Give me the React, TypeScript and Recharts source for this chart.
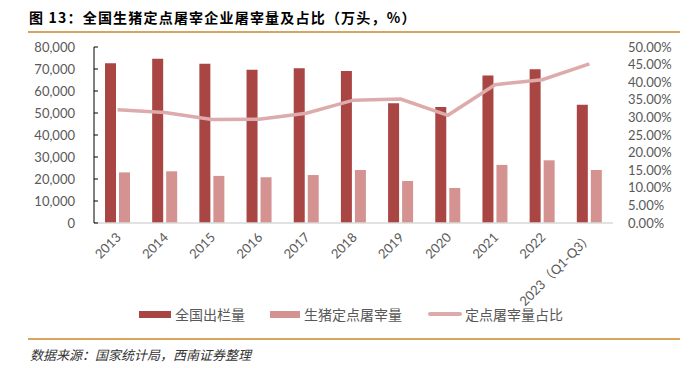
import { ComposedChart, Bar, Line, XAxis, YAxis } from 'recharts';

const years = ['2013', '2014', '2015', '2016', '2017', '2018', '2019', '2020', '2021', '2022', '2023（Q1-Q3）'];
const nationalOutput = [72600, 74700, 72400, 69700, 70300, 69100, 54400, 52700, 67100, 69900, 53800];
const designatedSlaughter = [23000, 23500, 21400, 20800, 21800, 24100, 19100, 15900, 26400, 28500, 24100];
const slaughterShare = [32.2, 31.4, 29.4, 29.5, 31.2, 34.9, 35.2, 30.6, 39.3, 40.7, 45.2];

const leftTicks = [0, 10000, 20000, 30000, 40000, 50000, 60000, 70000, 80000];
const rightTicks = [0, 5, 10, 15, 20, 25, 30, 35, 40, 45, 50];

const seriesNames = ['全国出栏量', '生猪定点屠宰量', '定点屠宰量占比'];
const colors = ['#A94543', '#D49291', '#DDABAB'];

const data = years.map((year, i) => ({
  year,
  national: nationalOutput[i],
  slaughter: designatedSlaughter[i],
  share: slaughterShare[i],
}));

const numFont = 'Lato, "Noto Sans CJK SC", sans-serif';
const cjkFont = '"Noto Sans CJK SC", sans-serif';

function LeftTick(props: any) {
  const { x, y, payload } = props;
  return (
    <g>
      <line x1={x} x2={x + 4} y1={y} y2={y} stroke="#000" strokeWidth={1} />
      <text x={x - 19} y={y} dy="0.35em" textAnchor="end" fill="#595959" fontSize={13} fontFamily={numFont}>
        {payload.value.toLocaleString('en-US')}
      </text>
    </g>
  );
}

function XTick(props: any) {
  const { x, y, payload } = props;
  return (
    <g transform={`translate(${x + 1},${y + 12})`}>
      <text transform="rotate(-45)" textAnchor="end" dy="0.35em" fill="#595959" fontSize={13} fontFamily={numFont}>
        {payload.value}
      </text>
    </g>
  );
}

export default function App() {
  return (
    <div style={{ position: 'absolute', left: 0, top: 0, width: 699, height: 368, background: '#fff' }}>
      <div
        style={{
          position: 'absolute', left: 29, top: 7, fontSize: 14, fontWeight: 'bold', color: '#000',
          fontFamily: cjkFont, letterSpacing: 1.2, whiteSpace: 'nowrap',
        }}
      >
        图 13：全国生猪定点屠宰企业屠宰量及占比（万头，%）
      </div>
      <div style={{ position: 'absolute', left: 28, top: 31, width: 652, height: 2, background: '#D9A460' }} />

      <ComposedChart
        width={699}
        height={368}
        data={data}
        margin={{ top: 47, right: 0, bottom: 0, left: 0 }}
        barSize={11}
        barGap={3}
      >
        <XAxis
          dataKey="year"
          interval={0}
          height={145}
          tickLine={false}
          tickSize={0}
          tickMargin={0}
          axisLine={{ stroke: '#D9D9D9', strokeWidth: 1.5 }}
          tick={<XTick />}
        />
        <YAxis
          yAxisId="left"
          width={94}
          domain={[0, 80000]}
          ticks={leftTicks}
          interval={0}
          tickLine={false}
          tickSize={0}
          tickMargin={0}
          axisLine={{ stroke: '#000', strokeWidth: 1 }}
          tick={<LeftTick />}
        />
        <YAxis
          yAxisId="right"
          orientation="right"
          width={86}
          domain={[0, 50]}
          ticks={rightTicks}
          interval={0}
          tickLine={false}
          axisLine={false}
          tickSize={0}
          tickMargin={15}
          tick={{ fill: '#595959', fontSize: 13, fontFamily: numFont }}
          tickFormatter={(v: number) => v.toFixed(2) + '%'}
        />
        <Bar yAxisId="left" dataKey="national" name={seriesNames[0]} fill={colors[0]} isAnimationActive={false} />
        <Bar yAxisId="left" dataKey="slaughter" name={seriesNames[1]} fill={colors[1]} isAnimationActive={false} />
        <Line
          yAxisId="right"
          dataKey="share"
          name={seriesNames[2]}
          stroke={colors[2]}
          strokeWidth={3.5}
          dot={false}
          activeDot={false}
          isAnimationActive={false}
        />
      </ComposedChart>

      <div style={{ position: 'absolute', left: 139, top: 304, display: 'flex', alignItems: 'center', fontFamily: cjkFont, fontSize: 14, color: '#595959', whiteSpace: 'nowrap' }}>
        <span style={{ width: 32, height: 7, background: colors[0], display: 'inline-block', marginRight: 4 }} />
        <span style={{ marginRight: 25 }}>{seriesNames[0]}</span>
        <span style={{ width: 30, height: 7, background: colors[1], display: 'inline-block', marginRight: 4 }} />
        <span style={{ marginRight: 26 }}>{seriesNames[1]}</span>
        <span style={{ width: 34, height: 3.5, background: colors[2], display: 'inline-block', marginRight: 3, borderRadius: 2 }} />
        <span>{seriesNames[2]}</span>
      </div>

      <div style={{ position: 'absolute', left: 28, top: 338, width: 652, height: 2, background: '#D9A460' }} />
      <div
        style={{
          position: 'absolute', left: 30, top: 345, fontSize: 13, fontStyle: 'italic', color: '#333',
          fontFamily: cjkFont, whiteSpace: 'nowrap',
        }}
      >
        数据来源：国家统计局，西南证券整理
      </div>
    </div>
  );
}
